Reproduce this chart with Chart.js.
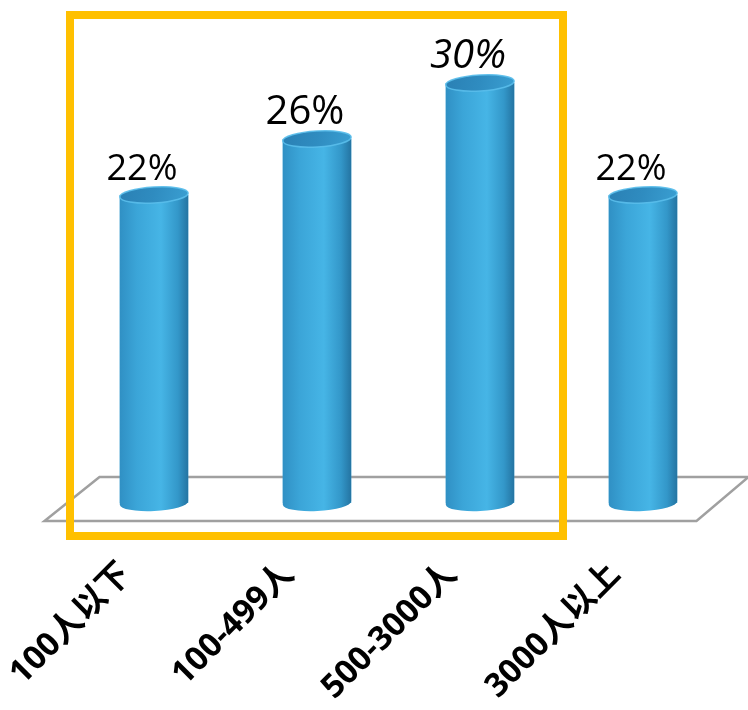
<!DOCTYPE html>
<html>
<head>
<meta charset="utf-8">
<style>
  html, body { margin: 0; padding: 0; background: #ffffff; }
  #wrap { width: 748px; height: 710px; }
</style>
<script src="https://cdn.jsdelivr.net/npm/chart.js@4/dist/chart.umd.min.js"></script>
</head>
<body>
<div id="wrap"><canvas id="c" width="748" height="710"></canvas></div>
<script>
// ---- data ----
const categories = ['100人以下', '100-499人', '500-3000人', '3000人以上'];
const shares = [22, 26, 30, 22];
const valueLabels = ['22%', '26%', '30%', '22%'];
const highlighted = [0, 1, 2]; // categories inside the yellow frame

// ---- styles ----
const labelFontSizes = [36, 40, 40, 36];
const labelItalic = [false, false, true, false];

const floorPlugin = {
  id: 'floor',
  beforeDatasetsDraw(chart) {
    const { ctx, chartArea: a, scales: { y } } = chart;
    const y0 = y.getPixelForValue(0);
    ctx.save();
    ctx.beginPath();
    ctx.moveTo(a.left + 27, y0 - 26);
    ctx.lineTo(a.right + 24, y0 - 26);
    ctx.lineTo(a.right - 28, y0 + 18);
    ctx.lineTo(a.left - 28, y0 + 18);
    ctx.closePath();
    ctx.fillStyle = '#ffffff';
    ctx.fill();
    ctx.lineWidth = 2.5;
    ctx.strokeStyle = '#a0a0a0';
    ctx.stroke();
    ctx.restore();
  }
};

const cylinderPlugin = {
  id: 'cylinder',
  afterDatasetsDraw(chart) {
    const { ctx } = chart;
    const meta = chart.getDatasetMeta(0);
    meta.data.forEach((bar, i) => {
      const { x, y, base, width } = bar.getProps(['x', 'y', 'base', 'width'], true);
      const l = x - width / 2, r = x + width / 2, rx = width / 2, ry = 8;
      ctx.save();
      const g = ctx.createLinearGradient(l, 0, r, 0);
      g.addColorStop(0, '#3090c4');
      g.addColorStop(0.25, '#3ba5d8');
      g.addColorStop(0.6, '#46b5e6');
      g.addColorStop(0.85, '#3397c9');
      g.addColorStop(1, '#2474a2');
      ctx.beginPath();
      ctx.moveTo(l, y);
      ctx.lineTo(l, base);
      ctx.ellipse(x, base, rx, ry, -0.05, Math.PI, 0, true);
      ctx.lineTo(r, y);
      ctx.closePath();
      ctx.fillStyle = g;
      ctx.fill();
      // top cap
      const gt = ctx.createLinearGradient(l, y - ry, r, y + ry);
      gt.addColorStop(0, '#2a80b4');
      gt.addColorStop(0.5, '#2f8cc0');
      gt.addColorStop(1, '#3a9fd2');
      ctx.beginPath();
      ctx.ellipse(x, y, rx, ry, -0.06, 0, Math.PI * 2);
      ctx.fillStyle = gt;
      ctx.fill();
      ctx.lineWidth = 1.5;
      ctx.strokeStyle = 'rgba(90,190,235,0.9)';
      ctx.stroke();
      ctx.restore();
    });
  }
};

const valueLabelPlugin = {
  id: 'valueLabels',
  afterDatasetsDraw(chart) {
    const { ctx } = chart;
    const meta = chart.getDatasetMeta(0);
    meta.data.forEach((bar, i) => {
      ctx.save();
      ctx.font = (labelItalic[i] ? 'italic ' : '') + labelFontSizes[i] + 'px "Open Sans", "Noto Sans", sans-serif';
      ctx.fillStyle = '#000000';
      ctx.textAlign = 'center';
      ctx.textBaseline = 'alphabetic';
      ctx.fillText(valueLabels[i], bar.x - 12, bar.y - 15);
      ctx.restore();
    });
  }
};

const framePlugin = {
  id: 'frame',
  afterDraw(chart) {
    const { ctx, chartArea: a, scales: { x, y } } = chart;
    const first = x.getPixelForValue(highlighted[0]);
    const last = x.getPixelForValue(highlighted[highlighted.length - 1]);
    ctx.save();
    ctx.lineWidth = 8;
    ctx.strokeStyle = '#ffc000';
    ctx.strokeRect(first - 84, a.top + 2, (last + 83) - (first - 84), y.getPixelForValue(0) + 33 - (a.top + 2));
    ctx.restore();
  }
};

new Chart(document.getElementById('c'), {
  type: 'bar',
  data: {
    labels: categories,
    datasets: [{
      data: shares,
      backgroundColor: '#3aa3d6',
      borderWidth: 0,
      categoryPercentage: 1,
      barPercentage: 0.42
    }]
  },
  options: {
    responsive: false,
    animation: false,
    devicePixelRatio: 1,
    layout: { padding: { left: 72.5, right: 23.5, top: 13, bottom: 0 } },
    plugins: { legend: { display: false }, tooltip: { enabled: false } },
    scales: {
      y: { display: false, min: 0, max: 35 },
      x: {
        grid: { display: false, drawTicks: false },
        border: { display: false },
        ticks: {
          minRotation: 45,
          maxRotation: 45,
          labelOffset: -28,
          padding: 52,
          color: '#000000',
          font: { family: '"Open Sans", "Noto Sans CJK SC", sans-serif', size: 33, weight: 'bold' }
        },
        afterFit(scale) { scale.height = 207; scale.paddingLeft = 0; scale.paddingRight = 0; }
      }
    }
  },
  plugins: [floorPlugin, cylinderPlugin, valueLabelPlugin, framePlugin]
});
</script>
</body>
</html>
